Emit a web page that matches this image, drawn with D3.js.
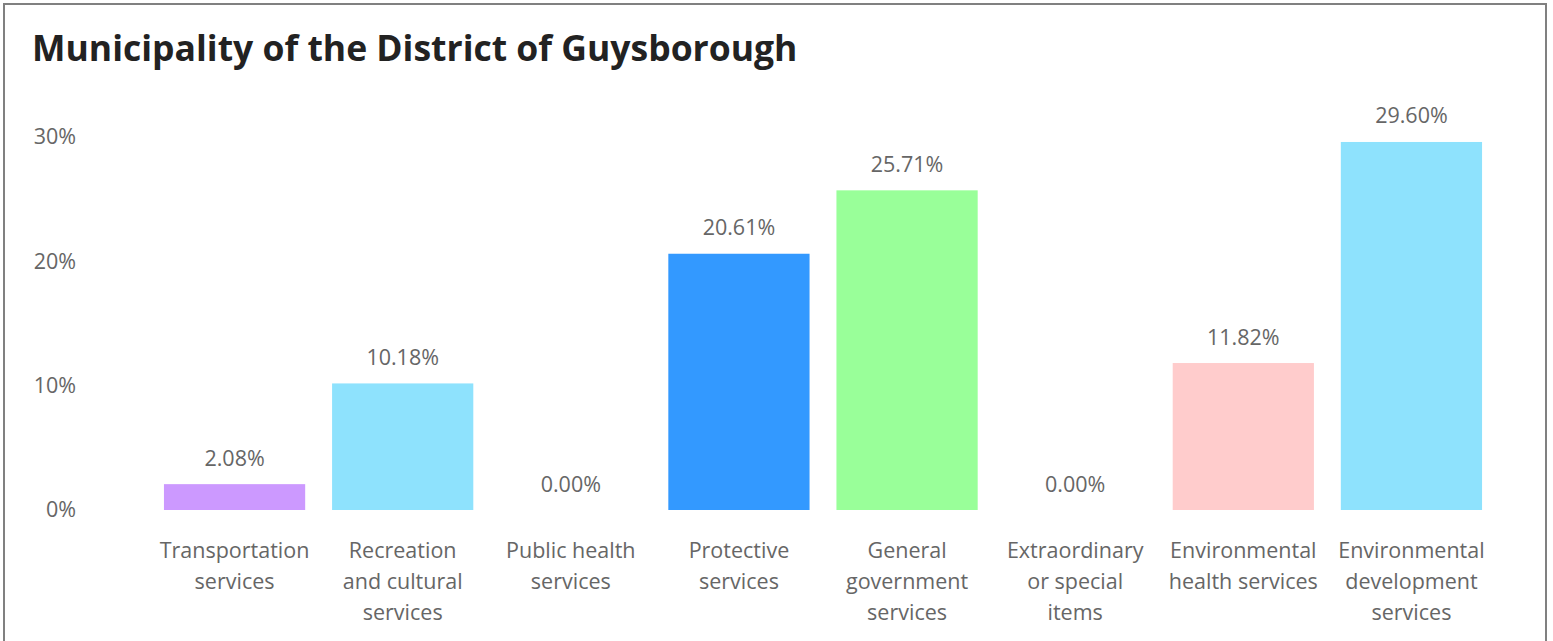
<!DOCTYPE html>
<html>
<head>
<meta charset="utf-8">
<script src="https://cdn.jsdelivr.net/npm/d3@7"></script>
<style>
    html, body { margin: 0; padding: 0; background: #fff; }
    svg { display: block; font-family: 'Open Sans', 'Noto Sans', sans-serif; }
</style>
</head>
<body>
<div id="chart"></div>
<script>
const title = 'Municipality of the District of Guysborough';
const categories = [
    'Transportation\nservices',
    'Recreation\nand cultural\nservices',
    'Public health\nservices',
    'Protective\nservices',
    'General\ngovernment\nservices',
    'Extraordinary\nor special\nitems',
    'Environmental\nhealth services',
    'Environmental\ndevelopment\nservices'
];
const values = [2.08, 10.18, 0.00, 20.61, 25.71, 0.00, 11.82, 29.60];
const colors = ['#cc99ff', '#8ee2fd', '#8ee2fd', '#3399ff', '#99ff99', '#cccccc', '#ffcccc', '#8ee2fd'];
const yTicks = [0, 10, 20, 30];

const width = 1553, height = 641;
const labelSize = '21.5px';

const svg = d3.select('#chart').append('svg')
    .attr('width', width)
    .attr('height', height);

// frame
svg.append('rect')
    .attr('x', 4).attr('y', 4)
    .attr('width', 1542).attr('height', 660)
    .attr('fill', 'none')
    .attr('stroke', '#808080')
    .attr('stroke-width', 2);

svg.append('text')
    .attr('x', 32).attr('y', 61)
    .style('font-size', '35.5px')
    .style('font-weight', 'bold')
    .attr('fill', '#222')
    .text(title);

const x = d3.scaleBand()
    .domain(categories)
    .range([150.5, 1495.5])
    .paddingInner(0.16)
    .paddingOuter(0.08);

const y = d3.scaleLinear()
    .domain([0, 30])
    .range([510, 137]);

// y axis labels only
const yAxis = svg.append('g')
    .attr('transform', 'translate(76,0)')
    .call(d3.axisLeft(y).tickValues(yTicks).tickSize(0).tickPadding(0).tickFormat(d => d + '%'))
    .attr('font-family', null)
    .attr('font-size', null);
yAxis.select('.domain').remove();
yAxis.selectAll('text')
    .style('font-size', '21.5px')
    .attr('fill', '#666');

// bars
svg.append('g')
    .selectAll('rect')
    .data(values)
    .enter()
    .append('rect')
    .attr('x', (d, i) => x(categories[i]))
    .attr('y', d => y(d))
    .attr('width', x.bandwidth())
    .attr('height', d => y(0) - y(d))
    .attr('fill', (d, i) => colors[i]);

// value labels
svg.append('g')
    .selectAll('text')
    .data(values)
    .enter()
    .append('text')
    .attr('x', (d, i) => x(categories[i]) + x.bandwidth() / 2)
    .attr('y', d => y(d) - 26)
    .attr('dy', '0.35em')
    .attr('text-anchor', 'middle')
    .style('font-size', labelSize)
    .attr('fill', '#666')
    .text(d => d.toFixed(2) + '%');

// category labels
const cat = svg.append('g')
    .selectAll('text')
    .data(categories)
    .enter()
    .append('text')
    .attr('x', d => x(d) + x.bandwidth() / 2)
    .attr('y', 550)
    .attr('text-anchor', 'middle')
    .style('font-size', labelSize)
    .attr('fill', '#666');

cat.selectAll('tspan')
    .data(d => d.split('\n'))
    .enter()
    .append('tspan')
    .attr('x', function () { return this.parentNode.getAttribute('x'); })
    .attr('dy', (d, i) => i === 0 ? '0.35em' : '31px')
    .text(d => d);
</script>
</body>
</html>
